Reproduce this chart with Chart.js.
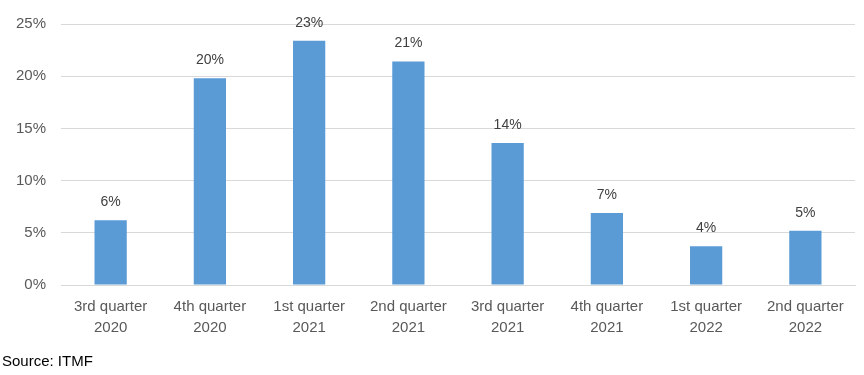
<!DOCTYPE html>
<html>
<head>
<meta charset="utf-8">
<script src="https://cdn.jsdelivr.net/npm/chart.js@4"></script>
<style>
  body { margin: 0; background: #fff; }
  #wrap { position: relative; width: 864px; height: 375px; }
  #source { position: absolute; left: 2px; top: 352px; font: 15px 'Liberation Sans', Arial, sans-serif; color: #000; }
</style>
</head>
<body>
<div id="wrap">
  <canvas id="barGrowth"></canvas>
  <div id="source">Source: ITMF</div>
</div>
<script>
// trimestres e valores (%)
const quarters = [
    ['3rd quarter', '2020'], ['4th quarter', '2020'], ['1st quarter', '2021'], ['2nd quarter', '2021'],
    ['3rd quarter', '2021'], ['4th quarter', '2021'], ['1st quarter', '2022'], ['2nd quarter', '2022']
];
const growth = [6.2, 19.8, 23.4, 21.4, 13.6, 6.9, 3.7, 5.2];
const yTicks = [0, 5, 10, 15, 20, 25];

// rótulos em cima das barras
const valueLabels = {
    id: 'valueLabels',
    afterDatasetsDraw(chart) {
        const ctx = chart.ctx;
        const meta = chart.getDatasetMeta(0);
        ctx.save();
        ctx.font = "14px 'Liberation Sans', Arial, sans-serif";
        ctx.fillStyle = '#404040';
        ctx.textAlign = 'center';
        ctx.textBaseline = 'bottom';
        meta.data.forEach((bar, i) => {
            ctx.fillText(Math.round(growth[i]) + '%', bar.x, bar.y - 11);
        });
        ctx.restore();
    }
};

const ctxGrowth = document.getElementById('barGrowth').getContext('2d');
ctxGrowth.canvas.width = 864;
ctxGrowth.canvas.height = 375;
new Chart(ctxGrowth, {
    type: 'bar',
    data: {
        labels: quarters,
        datasets: [{
            data: growth,
            backgroundColor: '#5B9BD5',
            barPercentage: 0.65,
            categoryPercentage: 0.5
        }]
    },
    options: {
        responsive: false,
        animation: false,
        layout: { padding: { top: 15, right: 9, left: 1, bottom: 26 } },
        scales: {
            x: {
                grid: { display: false, drawTicks: false },
                border: { color: '#d9d9d9' },
                ticks: {
                    color: '#595959',
                    padding: 11,
                    maxRotation: 0,
                    font: { size: 15, lineHeight: 1.4, family: "'Liberation Sans', Arial, sans-serif" }
                }
            },
            y: {
                min: 0,
                max: 25,
                afterBuildTicks(axis) { axis.ticks = yTicks.map(v => ({ value: v })); },
                grid: { color: '#d9d9d9', drawTicks: false },
                border: { display: false },
                ticks: {
                    color: '#595959',
                    padding: 15,
                    callback: v => v + '%',
                    font: { size: 15, family: "'Liberation Sans', Arial, sans-serif" }
                }
            }
        },
        plugins: {
            legend: { display: false },
            tooltip: { enabled: false }
        }
    },
    plugins: [valueLabels]
});
</script>
</body>
</html>
